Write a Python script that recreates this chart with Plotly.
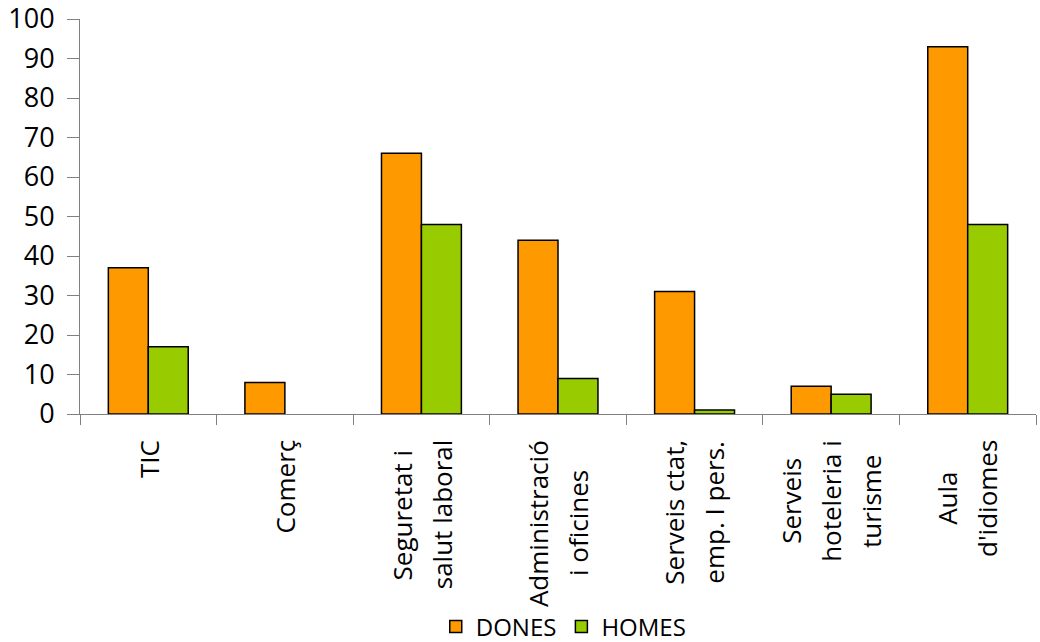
import plotly.graph_objects as go

categories = ["TIC", "Comerç", "Seguretat i salut laboral", "Administració i oficines",
              "Serveis ctat, emp. I pers.", "Serveis hoteleria i turisme", "Aula d'idiomes"]
label_lines = [["TIC"], ["Comerç"], ["Seguretat i", "salut laboral"],
               ["Administració", "i oficines"], ["Serveis ctat,", "emp. I pers."],
               ["Serveis", "hoteleria i", "turisme"], ["Aula", "d'idiomes"]]
dones = [37, 8, 66, 44, 31, 7, 93]
homes = [17, 0, 48, 9, 1, 5, 48]
y_ticks = list(range(0, 101, 10))

FONT = "Open Sans"
FS = 26
LINE_GAP = 40


def outline(vals):
    return [1.5 if v > 0 else 0 for v in vals]


fig = go.Figure()
fig.add_trace(go.Bar(x=categories, y=dones, name="DONES",
                     marker=dict(color="#FF9900", line=dict(color="black", width=outline(dones)))))
fig.add_trace(go.Bar(x=categories, y=homes, name="HOMES",
                     marker=dict(color="#99CC00", line=dict(color="black", width=outline(homes)))))

annotations = []
for cat, lines in zip(categories, label_lines):
    n = len(lines)
    for i in range(n):
        parts = []
        for j, ln in enumerate(lines):
            if j == i:
                parts.append(ln)
            else:
                parts.append(f"<span style='color:rgba(0,0,0,0)'>{ln}</span>")
        annotations.append(dict(
            x=cat, xref="x", y=-0.06, yref="paper", yanchor="top", xanchor="center",
            text="<br>".join(parts), showarrow=False, textangle=-90, align="center",
            xshift=(i - (n - 1) / 2) * (LINE_GAP - 1.3 * FS),
            font=dict(family=FONT, size=FS, color="black")))

fig.update_layout(
    width=1040, height=642,
    margin=dict(l=80, r=4, t=19, b=228, autoexpand=False),
    paper_bgcolor="white", plot_bgcolor="white",
    font=dict(family=FONT, size=FS, color="black"),
    barmode="group", bargap=0.415, bargroupgap=0,
    showlegend=True,
    legend=dict(orientation="h", x=0.506, xanchor="center", y=-0.539, yanchor="middle",
                font=dict(family=FONT, size=24, color="black"),
                bgcolor="rgba(0,0,0,0)", traceorder="normal"),
    annotations=annotations,
    xaxis=dict(showticklabels=False, tickson="boundaries", ticks="outside", ticklen=10,
               tickcolor="#808080", showline=True, linecolor="#808080", linewidth=1,
               showgrid=False, zeroline=False, automargin=False),
    yaxis=dict(range=[0, 100], tickvals=y_ticks, ticks="outside", ticklen=12,
               tickcolor="#808080", showline=True, linecolor="#808080", linewidth=1,
               showgrid=False, zeroline=False, automargin=False, ticklabelstandoff=7,
               ticklabeloverflow="allow",
               tickfont=dict(family=FONT, size=27, color="black")),
)

fig.write_html("out.html", config={"displayModeBar": False},
               post_script="document.body.style.margin='0';document.body.style.overflow='hidden';")
